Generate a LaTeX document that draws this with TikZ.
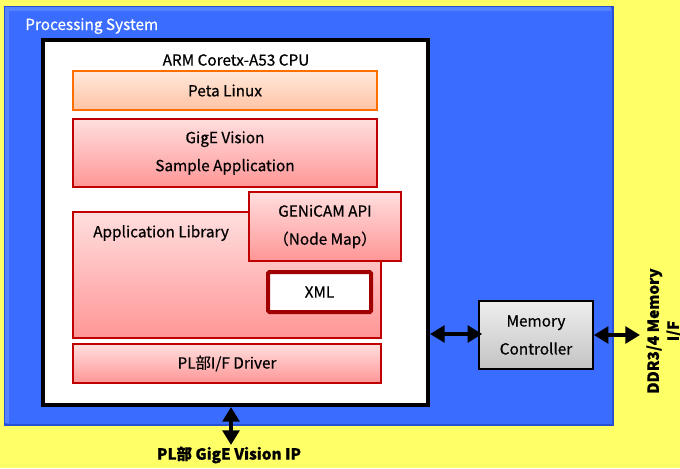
\documentclass[tikz,border=0pt]{standalone}
\usepackage{fontspec}
\setmainfont{Noto Sans CJK JP}[FakeBold=0.6]
\usetikzlibrary{arrows.meta}
\definecolor{bgyellow}{RGB}{255,255,102}
\definecolor{psblue}{RGB}{58,108,255}
\definecolor{psedge}{RGB}{40,80,210}
\definecolor{psbevel}{RGB}{85,130,255}
\definecolor{darkred}{RGB}{192,0,0}
\definecolor{xmlred}{RGB}{160,0,0}
\definecolor{orangeedge}{RGB}{255,110,0}
\tikzset{
  lbl/.style={font=\fontsize{11.5}{21}\selectfont, align=center, text=black},
  sz/.style 2 args={minimum width={#1*0.75pt}, minimum height={#2*0.75pt}},
  petabox/.style={draw=orangeedge, line width=1.2pt, top color={rgb,255:red,255;green,232;blue,218}, bottom color={rgb,255:red,255;green,195;blue,165}, inner sep=0pt, lbl},
  redbox/.style={draw=darkred, line width=1.2pt, top color={rgb,255:red,255;green,222;blue,222}, bottom color={rgb,255:red,255;green,150;blue,150}, inner sep=0pt, lbl},
  xmlbox/.style={draw=xmlred, line width=3pt, fill=white, rounded corners=1pt, inner sep=0pt, lbl},
  mcbox/.style={draw=black, line width=1.2pt, top color={rgb,255:red,238;green,238;blue,238}, bottom color={rgb,255:red,195;green,195;blue,195}, inner sep=0pt, lbl},
  cpubox/.style={draw=black, line width=3pt, fill=white, inner sep=0pt},
  bigarrow/.style={line width=3.4pt, {Triangle[length=11pt,width=12.5pt]}-{Triangle[length=11pt,width=12.5pt]}, black},
  boldlbl/.style={font=\fontsize{11.5}{15}\selectfont\bfseries, align=center, text=black}
}
\begin{document}
\begin{tikzpicture}[x=0.75pt,y=-0.75pt]
\useasboundingbox (0,0) rectangle (680,468);
\fill[bgyellow] (0,0) rectangle (680,468);
% processing system
\node[draw=psedge, fill=psblue, line width=1pt, inner sep=0pt, sz={608}{418}] (ps) at (309,216) {};
\draw[psbevel, line width=3pt] ([shift={(2.5,-2.5)}]ps.south west) -- ([shift={(2.5,2.5)}]ps.north west) -- ([shift={(-2.5,2.5)}]ps.north east);
\node[anchor=west, text=white, font=\fontsize{11.5}{13}\selectfont, inner sep=0pt] (pslbl) at (25,26) {Processing System};
% cpu
\node[cpubox, sz={385}{365}] (cpu) at (235.5,222.5) {};
\node[lbl, inner sep=0pt] (cpulbl) at (236,60) {ARM Coretx-A53 CPU};
\node[petabox, sz={304}{39}] (peta) at (225,90.5) {Peta Linux};
\node[redbox, sz={304}{68}] (gige) at (225,153) {GigE Vision\\Sample Application};
\node[redbox, sz={308}{126}] (applib) at (227,275) {};
\node[lbl, anchor=west, inner sep=0pt] (applbl) at (93,233) {Application Library};
\node[redbox, sz={152}{69}] (genicam) at (325,226.5) {GENiCAM API\\（Node Map）};
\node[xmlbox, sz={103}{40}] (xml) at (319.5,292) {XML};
\node[redbox, sz={308}{39}] (drv) at (227,363.5) {PL部I/F Driver};
% memory controller
\node[mcbox, sz={114}{68}] (mc) at (536,335) {Memory\\Controller};
% external
\coordinate (ddr) at (640,335);
\coordinate (plip) at (231,445);
\draw[bigarrow] (cpu.east |- 0,334) -- ([xshift=3]mc.west |- 0,334);
\draw[bigarrow] (mc.east |- ddr) -- (ddr);
\draw[bigarrow] (cpu.south -| plip) -- (plip);
\node[boldlbl] (pllbl) at (229,455) {PL部 GigE Vision IP};
\node[boldlbl, rotate=90] (ddrlbl) at (664,331) {DDR3/4 Memory\\I/F};
\end{tikzpicture}
\end{document}
